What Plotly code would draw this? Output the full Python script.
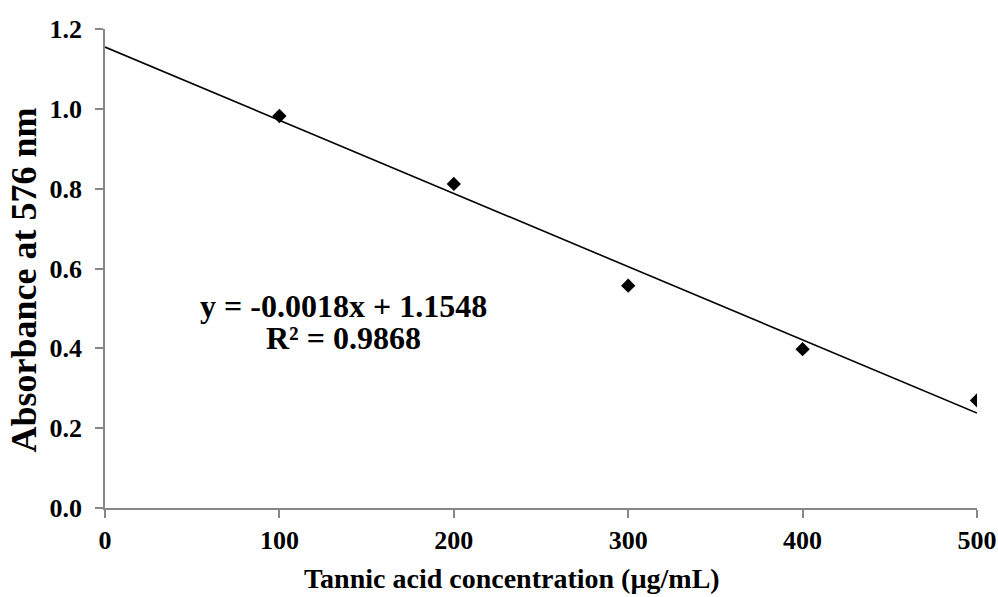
import numpy as np
import plotly.graph_objects as go

# Tannic acid standard curve
concentration = [100, 200, 300, 400, 500]          # µg/mL
absorbance = [0.982, 0.812, 0.557, 0.398, 0.2695]  # A576

# Linear trendline
slope = -0.001834
intercept = 1.1548
r_squared = 0.9868

x_ticks = [0, 100, 200, 300, 400, 500]
y_ticks = [0.0, 0.2, 0.4, 0.6, 0.8, 1.0, 1.2]

FONT = "Liberation Serif"
AXIS_GREY = "#878787"

fit_x = np.array([0, 500])
fit_y = slope * fit_x + intercept

fig = go.Figure()
fig.add_trace(go.Scatter(
    x=fit_x, y=fit_y, mode="lines",
    line=dict(color="black", width=1.6),
    showlegend=False, hoverinfo="skip",
))
fig.add_trace(go.Scatter(
    x=concentration, y=absorbance, mode="markers",
    marker=dict(symbol="diamond", size=11, color="black"),
    showlegend=False,
))

# Trendline equation, one annotation per line for tight spacing
eq_font = dict(family=FONT, size=32, color="black", weight="bold")
fig.add_annotation(x=137, y=0.507, xref="x", yref="y",
                   text=f"y = {slope:.4f}x + {intercept:.4f}",
                   showarrow=False, font=eq_font)
fig.add_annotation(x=137, y=0.425, xref="x", yref="y",
                   text=f"R² = {r_squared:.4f}",
                   showarrow=False, font=eq_font)

# Axis titles
fig.add_annotation(x=512, y=578, showarrow=False,
                   text="Tannic acid concentration (µg/mL)",
                   font=dict(family=FONT, size=28, color="black", weight="bold"))
fig.add_annotation(x=23, y=280, textangle=-90, showarrow=False,
                   text="Absorbance at 576 nm",
                   font=dict(family=FONT, size=36, color="black", weight="bold"))

axis_common = dict(
    showgrid=False, zeroline=False, showline=True,
    linecolor=AXIS_GREY, linewidth=1.5,
    ticks="outside", tickcolor=AXIS_GREY, tickwidth=1.5, ticklen=8,
    tickfont=dict(family=FONT, size=26, color="black", weight="bold"),
)

fig.update_xaxes(range=[0, 500], tickvals=x_ticks,
                 ticktext=[str(v) for v in x_ticks], **axis_common)
fig.update_yaxes(range=[0, 1.2], tickvals=y_ticks,
                 ticktext=[f"{v:.1f}" for v in y_ticks],
                 ticklabelstandoff=8, **axis_common)

W, H = 998, 597
ML, MR, MT, MB = 104.5, 20.5, 29.3, 89.3
fig.update_layout(
    width=W, height=H,
    margin=dict(l=ML, r=MR, t=MT, b=MB, autoexpand=False),
    paper_bgcolor="white", plot_bgcolor="white",
)

# Axis titles are given in page pixels; convert them to paper fractions
for ann in fig.layout.annotations[2:]:
    px, py = ann.x, ann.y
    ann.xref, ann.yref = "paper", "paper"
    ann.x = (px - ML) / (W - ML - MR)
    ann.y = (H - MB - py) / (H - MT - MB)
    ann.xanchor, ann.yanchor = "center", "middle"

fig.write_html("out.html")
